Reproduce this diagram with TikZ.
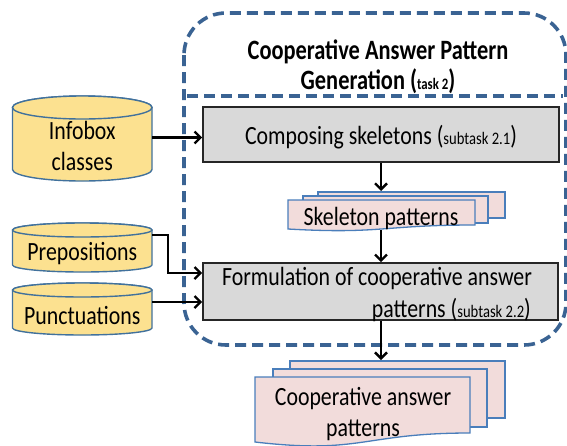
\documentclass[tikz,border=0pt]{standalone}
\usepackage{fontspec}
\setmainfont[FakeStretch=0.83]{Carlito}
\newfontfamily\titlefont[FakeStretch=0.8]{Carlito}
\usetikzlibrary{arrows.meta,calc}
\definecolor{dashblue}{HTML}{3A6393}
\definecolor{cylfill}{HTML}{FCE190}
\definecolor{cylline}{HTML}{41719C}
\definecolor{docfill}{HTML}{F2DCDB}
\definecolor{docline}{HTML}{4A7EBB}
\definecolor{boxfill}{HTML}{D9D9D9}
\newcommand\bodyf{\fontsize{26.3}{31}\selectfont}
\newcommand\subf{\fontsize{17.6}{20}\selectfont}
\newcommand\titf{\titlefont\bfseries\fontsize{28}{30}\selectfont}
\newcommand\tsubf{\titlefont\bfseries\fontsize{16}{18}\selectfont}
\begin{document}
\begin{tikzpicture}[x=1pt,y=-1pt,
  lbl/.style={font=\bodyf, inner sep=0pt, align=center},
  procbox/.style={draw=black!85, fill=boxfill, line width=1.6pt, inner sep=0pt},
  conn/.style={line width=2.4pt, -{Straight Barb[length=6pt,width=12pt,line width=2.4pt]}},
  cylshape/.style={draw=cylline, fill=cylfill, line width=1.4pt},
  docshape/.style={draw=docline, fill=docfill, line width=1.3pt},
  frame/.style={draw=dashblue, line width=3.6pt, dash pattern=on 11pt off 6pt}]
\useasboundingbox (0,0) rectangle (567,445);
\clip (0,0) rectangle (567,445);

% dashed task frame
\draw[frame, rounded corners=42pt] (184,13) rectangle (566,345);
\draw[frame] (187,96) -- (563,96);
\node[inner sep=0pt, align=center, font=\titf] (title) at (378,67)
  {Cooperative Answer Pattern\\Generation ({\tsubf task 2})};

% cylinders
\path[cylshape] (12.5,107.5) -- (12.5,169.5)
  arc[start angle=180,end angle=360,x radius=69.75pt,y radius=11.5pt]
  -- (152,107.5)
  arc[start angle=0,end angle=180,x radius=69.75pt,y radius=11.5pt] -- cycle;
\draw[cylshape] (82.25,107.5) ellipse[x radius=69.75pt,y radius=11.5pt];
\node[lbl, minimum width=139.5pt] (inf) at (82.25,145.5) {Infobox\\classes};

\path[cylshape] (12.5,230) -- (12.5,265)
  arc[start angle=180,end angle=360,x radius=69.75pt,y radius=7pt]
  -- (152,230)
  arc[start angle=0,end angle=180,x radius=69.75pt,y radius=7pt] -- cycle;
\draw[cylshape] (82.25,230) ellipse[x radius=69.75pt,y radius=7pt];
\node[lbl, anchor=base, minimum width=139.5pt] (prep) at (82.25,260) {Prepositions};

\path[cylshape] (12.5,290) -- (12.5,328)
  arc[start angle=180,end angle=360,x radius=69.75pt,y radius=7pt]
  -- (152,290)
  arc[start angle=0,end angle=180,x radius=69.75pt,y radius=7pt] -- cycle;
\draw[cylshape] (82.25,290) ellipse[x radius=69.75pt,y radius=7pt];
\node[lbl, anchor=base, minimum width=139.5pt] (punc) at (82.25,324) {Punctuations};

% process boxes
\node[procbox, minimum width=356pt, minimum height=55pt] (b1) at (381,134.5) {};
\node[lbl, anchor=base] (b1t) at (381,144) {Composing skeletons ({\subf subtask 2.1})};
\node[procbox, minimum width=355pt, minimum height=57pt] (b2) at (380.5,291.5) {};
\node[lbl, anchor=base] (b2a) at (377,285) {Formulation of cooperative answer};
\node[lbl, anchor=base east] (b2b) at (531,317) {patterns ({\subf subtask 2.2})};

% skeleton patterns stack
\path[docshape] (318,192) rectangle (505,218);
\path[docshape] (303,196) rectangle (488,223);
\path[docshape] (288,200) -- (475,200) -- (475,225)
  .. controls (381.5,225) and (381.5,234.3) .. (288,229) -- cycle;
\node[lbl, anchor=base] (skel) at (381,225) {Skeleton patterns};
\coordinate (skeltop) at (381,191);
\coordinate (skelbot) at (381,230);

% cooperative answer patterns stack
\path[docshape] (290,361) rectangle (505,418);
\path[docshape] (273,369) rectangle (487,427);
\path[docshape] (255,377) -- (470,377) -- (470,433)
  .. controls (362.5,433) and (362.5,454.5) .. (255,442) -- cycle;
\node[lbl] (coop) at (363,414) {Cooperative answer\\patterns};
\coordinate (cooptop) at (381,360);

% connectors
\draw[conn] ([yshift=8pt]inf.east) -- ([yshift=8pt]inf.east -| b1.west);
\draw[conn] ([yshift=18pt]prep.east) -- ++(16,0) |- ([yshift=18.5pt]b2.west);
\draw[conn] ([yshift=13pt]punc.east) -- ([yshift=13pt]punc.east -| b2.west);
\draw[conn] (b1.south -| skeltop) -- (skeltop);
\draw[conn] (skelbot) -- (skelbot |- b2.north);
\draw[conn] (b2.south -| cooptop) -- (cooptop);
\end{tikzpicture}
\end{document}
